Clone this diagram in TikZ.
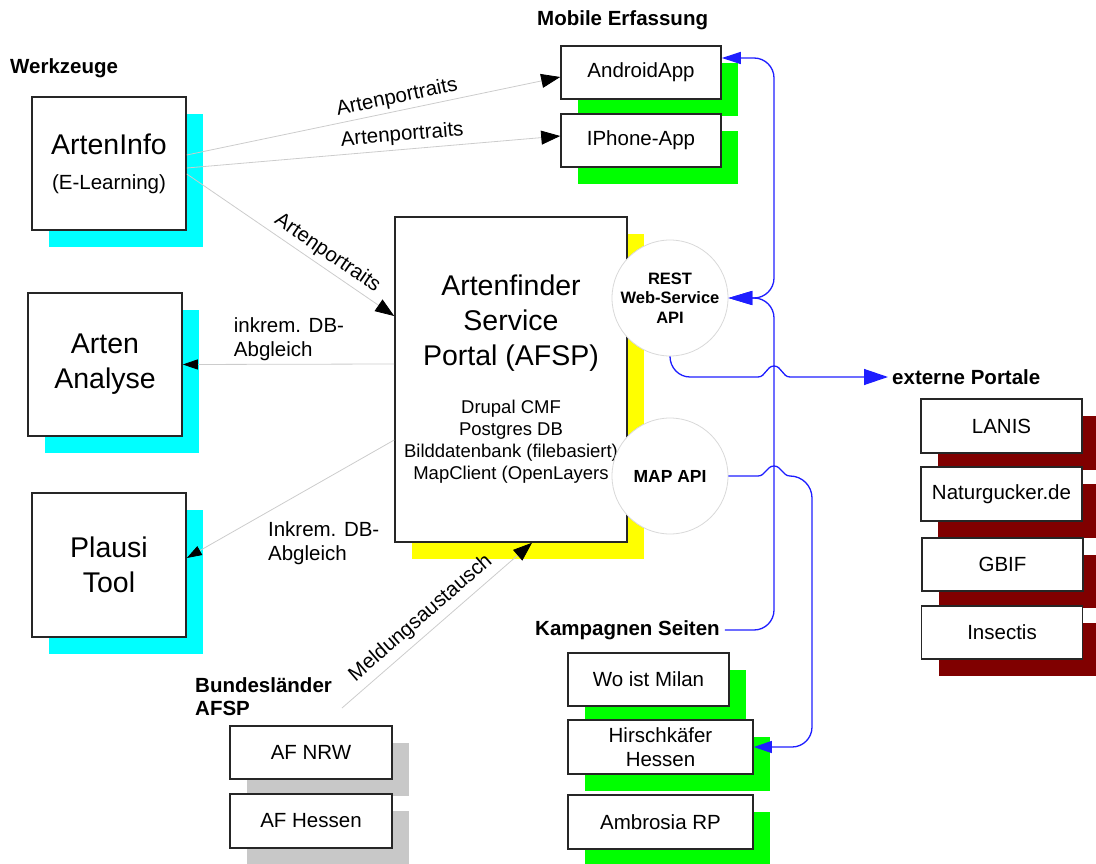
\documentclass[tikz,border=0pt]{standalone}
\usepackage{fontspec}
\setmainfont{Liberation Sans}
\usetikzlibrary{arrows.meta,shadows}

\definecolor{toolcyan}{RGB}{0,255,255}
\definecolor{appgreen}{RGB}{0,255,0}
\definecolor{portyellow}{RGB}{255,255,0}
\definecolor{landgray}{RGB}{200,200,200}
\definecolor{extred}{RGB}{128,0,0}
\definecolor{apiblue}{RGB}{30,30,255}

\newcommand{\bigtxt}{\fontsize{28.5}{35}\selectfont}
\newcommand{\midtxt}{\fontsize{20.5}{24}\selectfont}
\newcommand{\smalltxt}{\fontsize{18.5}{22}\selectfont}

\tikzset{
  shbox/.style={draw=black!85, line width=1.6pt, fill=white, inner sep=0pt,
    align=center, font=\midtxt,
    drop shadow={fill=#1, opacity=1, shadow xshift=17pt, shadow yshift=-17pt}},
  grouphead/.style={anchor=west, inner sep=0pt, align=left,
    font=\fontsize{20.5}{23}\selectfont\bfseries},
  apicircle/.style={circle, draw=black!15, line width=0.8pt, fill=white,
    minimum size=116pt, inner sep=0pt, align=center},
  flow/.style={draw=black!20, line width=0.8pt,
    -{Triangle[length=19pt,width=14pt,color=black]}},
  flowsm/.style={draw=black!20, line width=0.8pt,
    -{Triangle[length=15pt,width=10pt,color=black]}},
  apilink/.style={draw=apiblue, line width=1.3pt},
  conlab/.style={font=\midtxt, inner sep=2pt},
}

\begin{document}
\begin{tikzpicture}[x=1pt,y=-1pt]
\useasboundingbox (0,0) rectangle (1096,864);

% Werkzeuge
\node[grouphead] (werkz) at (10,68) {Werkzeuge};
\node[shbox=toolcyan, minimum width=154pt, minimum height=133pt] (artinfo) at (109,163.5)
  {{\bigtxt ArtenInfo}\\[11pt](E-Learning)};
\node[shbox=toolcyan, font=\bigtxt, minimum width=154pt, minimum height=143pt] (analyse) at (105,364.5) {Arten\\Analyse};
\node[shbox=toolcyan, font=\bigtxt, minimum width=154pt, minimum height=144pt] (plausi) at (109,565) {Plausi\\Tool};

% Portal mit Schnittstellen
\node[shbox=portyellow, font=\smalltxt, minimum width=232pt, minimum height=325pt] (afsp) at (511,379.5)
  {{\bigtxt Artenfinder}\\[13pt]{\bigtxt Service}\\[13pt]{\bigtxt Portal (AFSP)}\\[26pt]
   Drupal CMF\\Postgres DB\\Bilddatenbank (filebasiert)\\MapClient (OpenLayers};
\node[apicircle, font=\fontsize{16.5}{19.5}\selectfont\bfseries] (rest) at (670,298) {REST\\Web-Service\\API};
\node[apicircle, font=\fontsize{17.5}{20}\selectfont\bfseries] (map) at (670,476) {MAP API};

% Mobile Erfassung
\node[grouphead] (mobil) at (537,20) {Mobile Erfassung};
\node[shbox=appgreen, minimum width=160pt, minimum height=53pt] (android) at (641,72.5) {AndroidApp};
\node[shbox=appgreen, minimum width=160pt, minimum height=53pt] (iphone) at (641,140.5) {IPhone-App};

% Kampagnen Seiten
\node[grouphead] (kamp) at (535,630) {Kampagnen Seiten};
\node[shbox=appgreen, minimum width=161pt, minimum height=53pt] (milan) at (648.5,679.5) {Wo ist Milan};
\node[shbox=appgreen, minimum width=185pt, minimum height=54pt] (hirsch) at (660.5,747) {Hirschkäfer\\Hessen};
\node[shbox=appgreen, minimum width=185pt, minimum height=54pt] (ambrosia) at (660.5,822) {Ambrosia RP};

% Bundeslaender
\node[grouphead] (bund) at (195,696.5) {Bundesländer\\AFSP};
\node[shbox=landgray, minimum width=162pt, minimum height=53pt] (nrw) at (311,752.5) {AF NRW};
\node[shbox=landgray, minimum width=162pt, minimum height=54pt] (afhessen) at (311,821) {AF Hessen};

% externe Portale
\node[grouphead] (extern) at (892,377) {externe Portale};
\node[shbox=extred, minimum width=161pt, minimum height=54pt] (lanis) at (1001.5,426) {LANIS};
\node[shbox=extred, minimum width=161pt, minimum height=54pt] (natur) at (1001.5,494) {Naturgucker.de};
\node[shbox=extred, minimum width=161pt, minimum height=53pt] (gbif) at (1002.5,564.5) {GBIF};
\node[shbox=extred, minimum width=161pt, minimum height=53pt] (insectis) at (1002,632.5) {Insectis};

% Datenfluesse
\draw[flow] ([yshift=8.5pt]artinfo.east) -- ([yshift=-4.5pt]android.west)
  node[conlab, pos=0.57, above, sloped, inner sep=3pt] {Artenportraits};
\draw[flow] ([yshift=-4.5pt]artinfo.east) -- ([yshift=4.5pt]iphone.west)
  node[conlab, pos=0.58, above, sloped, inner sep=4pt] {Artenportraits};
\draw[flow] ([yshift=-10.5pt]artinfo.east) -- ([yshift=63.5pt]afsp.west)
  node[conlab, pos=0.64, above, sloped, inner sep=4pt] {Artenportraits};
\draw[flowsm] ([yshift=15.5pt]afsp.west) -- (analyse.east)
  node[conlab, pos=0.76, anchor=south west, inner sep=0pt, yshift=3pt, align=left] {inkrem. DB-\\Abgleich};
\draw[flowsm] ([yshift=-60.5pt]afsp.west) -- ([yshift=7pt]plausi.east)
  node[conlab, pos=0.61, anchor=north west, inner sep=0pt, yshift=-9pt, align=left] {Inkrem. DB-\\Abgleich};
\coordinate (meld) at (342,708);
\draw[flow] (meld) -- ([xshift=21pt]afsp.south)
  node[conlab, pos=0.47, above, sloped, inner sep=6pt] {Meldungsaustausch};

% Schnittstellen
\draw[apilink, rounded corners=20pt, {Triangle[length=19pt,width=12pt]}-{Triangle[length=24pt,width=14pt]}]
  ([yshift=14.5pt]android.east) -- (774,58) -- (774,298) -- (rest.east);
\draw[apilink, rounded corners=20pt, -{Triangle[length=24pt,width=14pt]}]
  ([xshift=5pt]kamp.east) -- (774,630) -- (774,298) -- (rest.east);
\draw[apilink, -{Triangle[length=24pt,width=16pt]}]
  (rest.south) to[out=-90,in=180] (690,377) -- (758,377)
  to[out=0,in=180] (774,366) to[out=0,in=180] (790,377) -- ([xshift=-4pt]extern.west);
\draw[apilink, -{Triangle[length=18pt,width=12pt]}]
  (map.east) -- (758,476) to[out=0,in=180] (774,466) to[out=0,in=180] (790,476)
  to[out=0,in=90] (812,498) -- (812,727) to[out=-90,in=0] (792,747) -- (hirsch.east);
\end{tikzpicture}
\end{document}
